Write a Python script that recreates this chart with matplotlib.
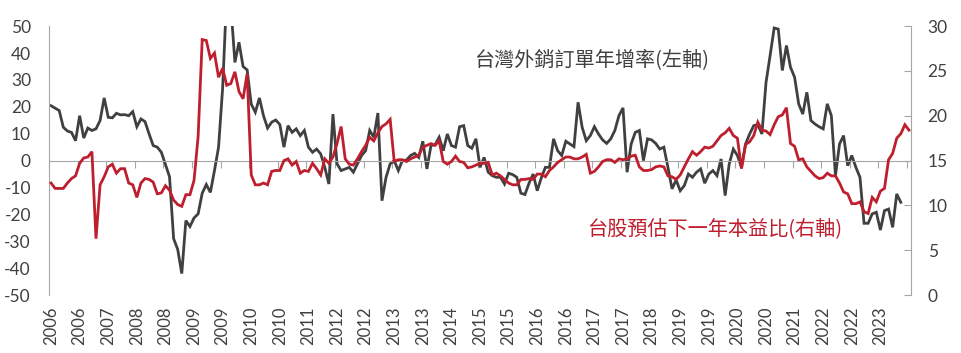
import numpy as np
import matplotlib.pyplot as plt

plt.rcParams['font.family'] = ['Noto Sans CJK TC', 'DejaVu Sans']
plt.rcParams['axes.unicode_minus'] = False

# 台灣外銷訂單年增率 (%), left axis
export_orders = [
    20.4, 19.5, 18.6, 12.4, 11.0, 10.5, 7.4, 16.7, 8.4, 12.1,
    11.2, 11.8, 14.9, 23.3, 16.1, 15.9, 17.6, 17.0, 17.1, 16.7,
    18.2, 12.6, 15.5, 14.5, 9.9, 5.6, 5.0, 3.1, -1.5, -6.0,
    -29.0, -33.0, -42.0, -22.3, -24.5, -21.3, -19.8, -12.1, -8.9, -11.8,
    -3.7, 5.0, 27.0, 62.0, 58.0, 36.5, 44.0, 35.0, 33.7, 21.0,
    18.0, 23.3, 16.7, 12.1, 14.3, 15.1, 13.4, 5.0, 13.0, 10.5,
    11.8, 9.3, 11.2, 5.0, 3.1, 4.3, 2.5, -2.5, -8.7, 17.3,
    -1.2, -3.7, -3.1, -2.5, -4.3, -1.2, 1.9, 3.7, 11.2, 8.7,
    17.7, -14.9, -6.2, -1.2, 0.0, -3.7, 0.0, 0.2, 1.9, 2.7,
    1.2, 7.2, -3.1, 5.6, 5.9, 8.7, 3.7, 9.9, 5.6, 5.0,
    12.6, 13.0, 5.6, 4.6, 8.1, -2.5, 1.2, -4.3, -5.6, -6.2,
    -6.2, -8.7, -4.7, -5.2, -6.2, -12.1, -12.6, -8.4, -5.0, -11.2,
    -6.4, -2.5, -2.5, 8.1, 3.7, 1.9, 7.2, 6.2, 5.2, 21.7,
    12.4, 7.4, 9.3, 12.6, 9.9, 7.7, 6.4, 8.1, 11.2, 16.7,
    19.6, -4.3, 6.2, 10.5, 11.2, 0.0, 8.1, 7.7, 6.4, 4.3,
    5.0, -2.5, -10.5, -7.2, -11.2, -9.3, -5.0, -6.2, -4.3, -3.1,
    -8.4, -5.0, -3.7, -5.6, 0.6, -13.0, -1.2, 4.3, 1.9, -2.5,
    6.2, 9.9, 13.0, 13.4, 9.9, 29.0, 39.0, 49.3, 48.9, 33.5,
    42.8, 34.7, 31.0, 21.1, 17.3, 25.4, 14.9, 13.6, 12.6, 11.8,
    21.1, 16.7, -5.6, 6.2, 9.3, -1.9, 1.9, -2.5, -6.2, -23.3,
    -23.3, -19.8, -19.2, -25.8, -18.6, -18.0, -24.8, -12.4, -15.5,
]

# 台股預估下一年本益比 (倍), right axis
forward_pe = [
    12.5, 11.9, 11.9, 11.9, 12.5, 13.0, 13.3, 14.7, 15.3, 15.4,
    16.0, 6.3, 12.3, 13.2, 14.3, 14.6, 13.6, 14.1, 14.1, 12.5,
    12.3, 10.9, 12.5, 13.0, 12.9, 12.6, 11.3, 11.4, 12.2, 11.7,
    10.6, 10.1, 9.9, 11.2, 11.2, 12.8, 17.7, 28.5, 28.4, 26.4,
    27.0, 24.3, 25.3, 23.4, 23.6, 24.9, 22.7, 21.9, 24.7, 13.4,
    12.3, 12.3, 12.5, 12.3, 13.8, 13.9, 13.9, 15.0, 15.2, 14.5,
    14.9, 13.6, 13.9, 13.8, 14.7, 14.1, 13.4, 15.2, 14.7, 15.4,
    16.9, 18.8, 15.2, 14.6, 14.5, 15.2, 16.0, 16.7, 17.6, 17.2,
    18.1, 18.8, 19.1, 19.6, 14.9, 15.1, 15.1, 14.9, 15.2, 15.4,
    15.6, 16.5, 16.7, 16.9, 16.7, 17.2, 14.9, 14.6, 14.9, 15.5,
    14.9, 14.8, 14.2, 14.3, 14.5, 14.7, 14.7, 14.8, 13.4, 13.6,
    13.3, 12.9, 12.5, 12.3, 12.3, 12.9, 12.9, 13.0, 12.9, 13.5,
    13.5, 13.2, 13.9, 14.3, 14.8, 15.1, 15.4, 15.4, 15.2, 15.2,
    15.4, 15.7, 13.6, 13.8, 14.3, 14.9, 15.1, 15.1, 14.8, 15.2,
    15.1, 15.2, 15.5, 15.6, 14.3, 13.9, 13.9, 14.0, 14.3, 14.4,
    14.3, 13.3, 13.2, 12.9, 13.4, 14.3, 15.2, 16.0, 15.6, 16.0,
    16.5, 16.4, 16.6, 17.2, 17.8, 18.1, 18.6, 17.8, 17.5, 14.1,
    16.8, 17.1, 17.8, 19.3, 18.4, 18.3, 17.9, 19.0, 19.9, 20.1,
    20.9, 16.9, 16.6, 15.1, 15.2, 14.3, 13.8, 13.3, 13.0, 13.1,
    13.6, 13.3, 13.3, 12.5, 11.5, 11.3, 10.2, 10.2, 10.4, 9.3,
    9.1, 10.9, 10.4, 11.6, 11.9, 15.1, 15.8, 17.5, 18.0, 19.0,
    18.4,
]

# category labels shown every 7 points
year_labels = ['2006', '2006', '2007', '2008', '2008', '2009', '2009', '2010',
               '2010', '2011', '2012', '2012', '2013', '2013', '2014', '2015',
               '2015', '2016', '2016', '2017', '2017', '2018', '2019', '2019',
               '2020', '2020', '2021', '2022', '2022', '2023']
label_step = 7

DARK = '#404040'
RED = '#be1e2d'
AXIS = '#a6a6a6'
TICK_FONT = 'Lato'

n = len(forward_pe)
x_dark = np.arange(len(export_orders))
x_red = np.arange(n)

fig = plt.figure(figsize=(9.61, 3.53), dpi=100)
ax = fig.add_axes([0.051, 0.164, 0.897, 0.762])
ax2 = ax.twinx()

ax.plot(x_dark, export_orders, color=DARK, lw=2.0, solid_joinstyle='miter')
ax2.plot(x_red, forward_pe, color=RED, lw=2.0, solid_joinstyle='miter')

ax.set_xlim(-0.5, n - 0.5)
ax.set_ylim(-50, 50)
ax.set_yticks(np.arange(-50, 51, 10))
ax2.set_ylim(0, 30)
ax2.set_yticks(np.arange(0, 31, 5))

# category axis sits on the zero line
for s in ['top', 'right']:
    ax.spines[s].set_visible(False)
ax.spines['left'].set_color(AXIS)
ax.spines['bottom'].set_position(('data', 0))
ax.spines['bottom'].set_color(AXIS)
ax.set_xticks(np.arange(0, n, label_step) - 0.5)
ax.set_xticklabels([])
ax.tick_params(axis='x', length=5, color=AXIS, direction='out')
ax.tick_params(axis='y', length=0, labelsize=12.5, labelcolor=DARK, pad=13)

for s in ['top', 'left', 'bottom']:
    ax2.spines[s].set_visible(False)
ax2.spines['right'].set_color(AXIS)
ax2.tick_params(axis='y', length=5, direction='in', color=AXIS,
                labelsize=12.5, labelcolor=DARK, pad=12)

# year labels along the bottom
sec = ax.secondary_xaxis(0)
sec.set_xticks(np.arange(0, n, label_step)[:len(year_labels)])
sec.set_xticklabels(year_labels, rotation=90)
sec.tick_params(length=0, labelsize=12, labelcolor=DARK, pad=8)
sec.spines['bottom'].set_visible(False)

for lab in ax.get_yticklabels() + ax2.get_yticklabels() + sec.get_xticklabels():
    lab.set_family(TICK_FONT)

ax.text(0.63, 0.874, '台灣外銷訂單年增率(左軸)', transform=ax.transAxes,
        ha='center', va='center', fontsize=14.5, color=DARK)
ax.text(0.773, 0.249, '台股預估下一年本益比(右軸)', transform=ax.transAxes,
        ha='center', va='center', fontsize=14.5, color=RED)

fig.savefig('out.png', dpi=100)
